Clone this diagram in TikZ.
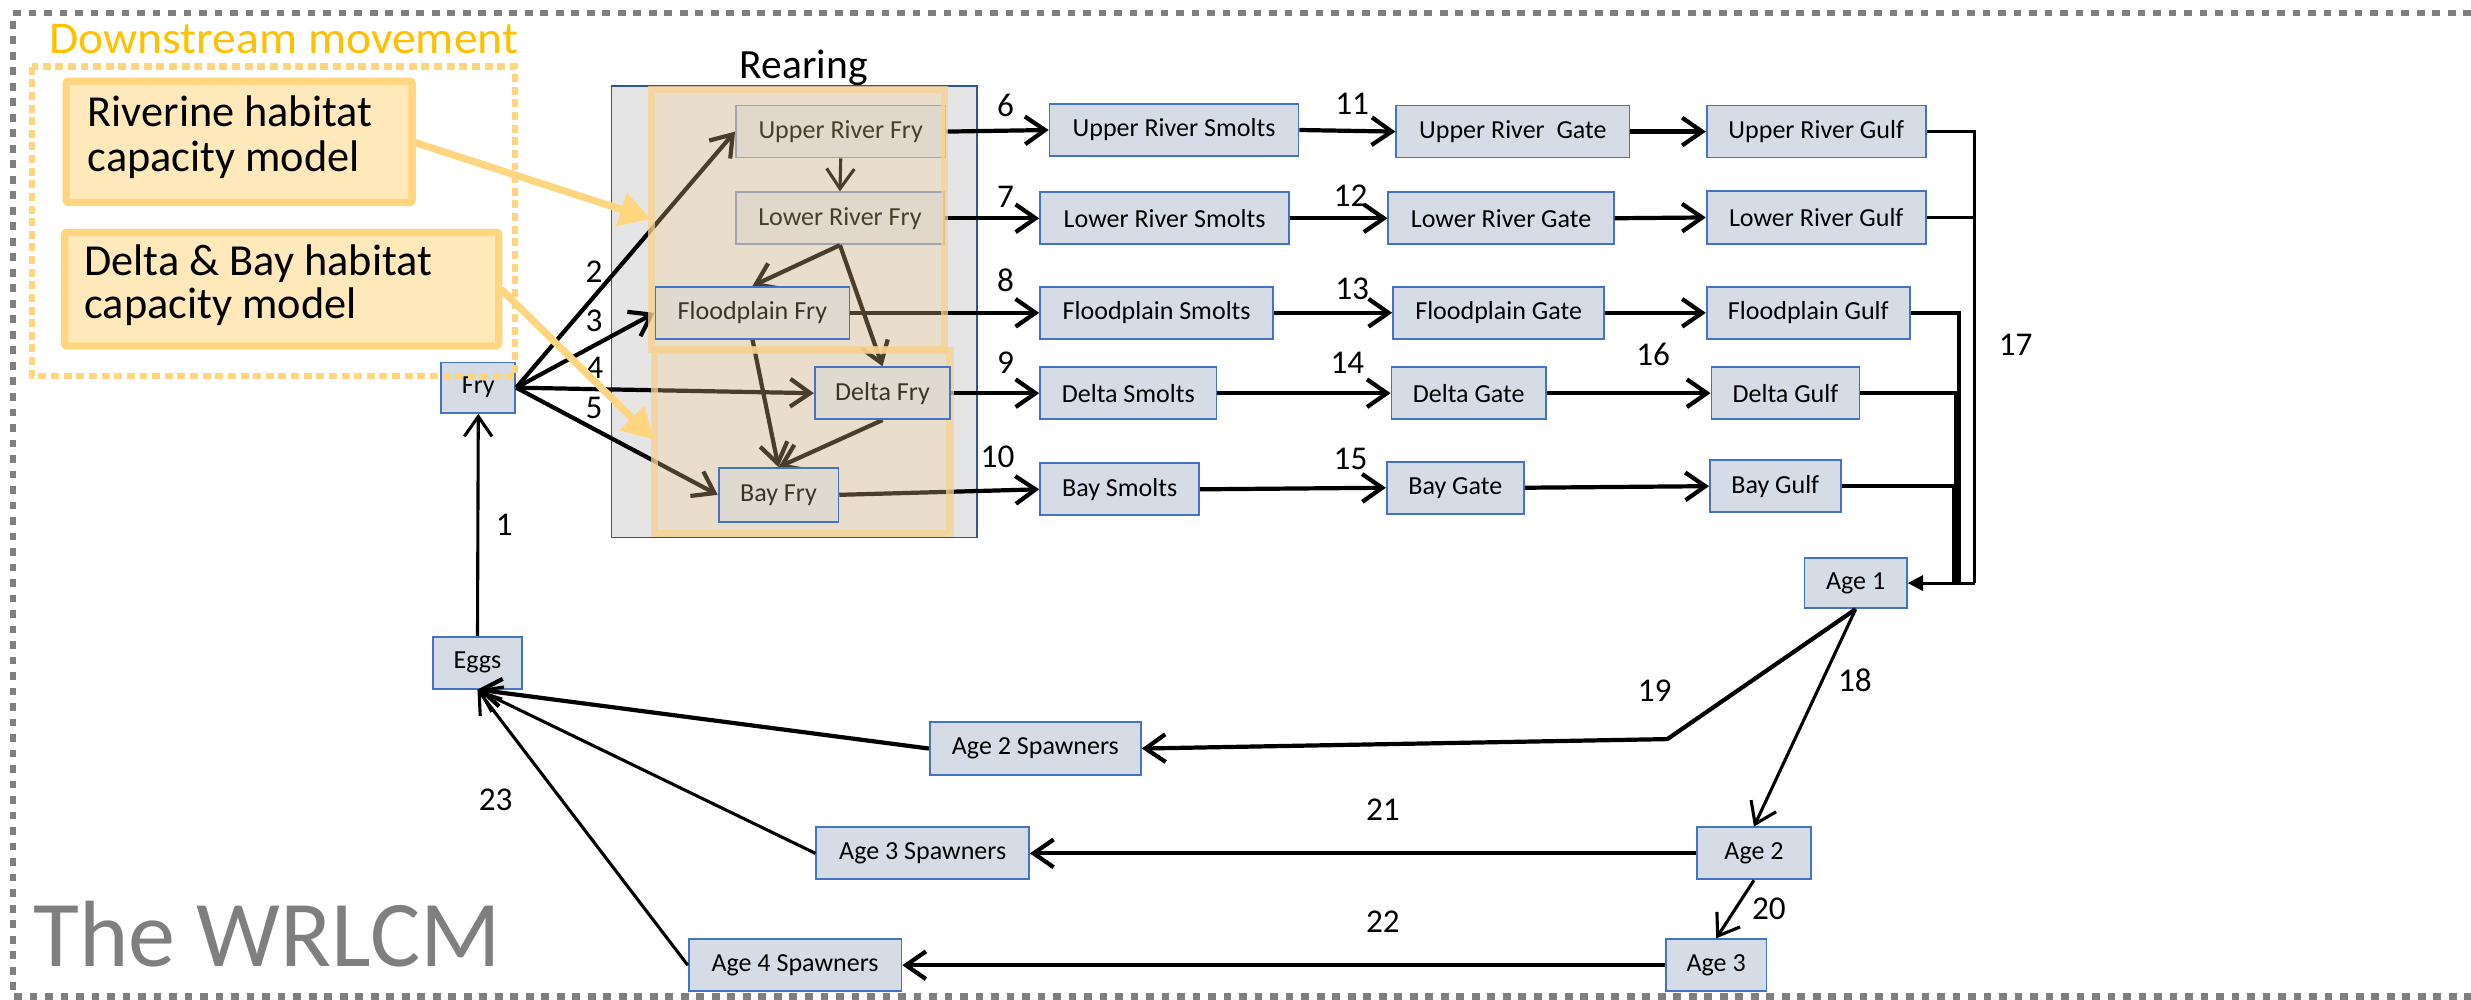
\documentclass[tikz,border=0pt]{standalone}
\usepackage{fontspec}
\setmainfont{Carlito}
\newfontfamily\widefont[FakeStretch=1.05]{Carlito}
\usetikzlibrary{arrows.meta}
\definecolor{boxfill}{HTML}{D6DCE5}
\definecolor{boxline}{HTML}{4472C4}
\definecolor{rearfill}{HTML}{E5E5E5}
\definecolor{rearline}{HTML}{2F5597}
\definecolor{tintfill}{HTML}{F5CF8F}
\definecolor{tintline}{HTML}{F7D28E}
\definecolor{gold}{HTML}{FFC000}
\definecolor{goldline}{HTML}{FFD580}
\definecolor{goldfill}{HTML}{FFE8BA}
\definecolor{framegray}{HTML}{7F7F7F}
\definecolor{fryfill}{HTML}{DFDAD0}
\definecolor{frytext}{HTML}{3A3428}
\definecolor{riverline}{HTML}{7A92BE}

\pgfdeclarelayer{tint}
\pgfdeclarelayer{front}
\pgfsetlayers{main,tint,front}

\tikzset{
  box/.style={draw=boxline, fill=boxfill, line width=1.6pt, inner sep=0pt,
    font=\fontsize{23.5pt}{28pt}\selectfont, text=black},
  riverbox/.style={box, draw=riverline},
  frybox/.style={box, fill=fryfill, text=frytext},
  num/.style={inner sep=0pt, font=\fontsize{30pt}{30pt}\selectfont},
  flow/.style={line width=3.8pt, -{Straight Barb[length=18pt,width=25pt]}},
  thinflow/.style={line width=2.8pt, -{Straight Barb[length=18pt,width=25pt]}},
  gulfline/.style={line width=3.2pt},
  outerline/.style={line width=2.6pt},
  goldbox/.style={draw=goldline, fill=goldfill, line width=6.6pt, rounded corners=2pt},
  goldarrow/.style={draw=goldline, line width=6.5pt, -{Triangle[length=28pt,width=30pt]}},
  tintbox/.style={fill=tintfill, fill opacity=0.3, draw=tintline, draw opacity=0.75, line width=6.4pt},
}

% box from corner (x1,y1) to corner (x2,y2)
\newcommand\bx[7][]{\node[box,#1,minimum width={(#5-#3)*0.05cm},minimum height={(#6-#4)*0.05cm}] (#2) at ({(#3+#5)/2},{(#4+#6)/2}) {#7};}

\begin{document}
\begin{tikzpicture}[x=0.05cm, y=-0.05cm]
\useasboundingbox (0,0) rectangle (1568,634);

% frame
\draw[framegray, line width=6pt, dash pattern=on 7pt off 7pt]
  (1568,8.3) -- (8.3,8.3) -- (8.3,632.5) -- (1568,632.5);
\node[anchor=base west, inner sep=0pt, text=framegray, font=\fontsize{85pt}{85pt}\selectfont] (title) at (21,613.5) {The WRLCM};

% rearing block
\draw[draw=rearline, fill=rearfill, line width=1.5pt] (388,54.5) rectangle (620,341);
\node[anchor=base, inner sep=0pt, font=\fontsize{37.5pt}{37.5pt}\selectfont] (rear) at (510,49.5) {Rearing};

% fry stages
\bx{fry}{280}{230}{327}{262}{Fry}
\bx{eggs}{275}{404}{331}{437}{Eggs}
\bx[riverbox]{urfry}{467}{67}{600}{100}{Upper River Fry}
\bx[riverbox]{lrfry}{467}{122}{599}{155}{Lower River Fry}
\begin{pgfonlayer}{front}
\bx[frybox]{fpfry}{416}{182}{539}{215}{Floodplain Fry}
\bx[frybox]{dfry}{517}{233}{603}{266}{Delta Fry}
\bx[frybox]{bfry}{456}{297}{532}{331}{Bay Fry}
\end{pgfonlayer}

% smolts, gates, gulf
\bx{urs}{666}{66}{824}{99}{Upper River Smolts}
\bx{urg}{886}{67}{1034}{100}{Upper River\ \ Gate}
\bx{urgulf}{1083}{67}{1222}{100}{Upper River Gulf}
\bx{lrs}{660}{122}{818}{155}{Lower River Smolts}
\bx{lrg}{881}{122}{1024}{155}{Lower River Gate}
\bx{lrgulf}{1083}{121}{1222}{155}{Lower River Gulf}
\bx{fps}{660}{182}{808}{215}{Floodplain Smolts}
\bx{fpg}{884}{182}{1018}{215}{Floodplain Gate}
\bx{fpgulf}{1083}{182}{1212}{215}{Floodplain Gulf}
\bx{ds}{660}{233}{772}{266}{Delta Smolts}
\bx{dg}{883}{233}{981}{266}{Delta Gate}
\bx{dgulf}{1086}{233}{1180}{266}{Delta Gulf}
\bx{bs}{660}{294}{761}{327}{Bay Smolts}
\bx{bg}{880}{293}{967}{326}{Bay Gate}
\bx{bgulf}{1085}{292}{1168}{325}{Bay Gulf}

% ocean ages and spawners
\bx{age1}{1145}{354}{1210}{386}{Age 1}
\bx{age2}{1077}{525}{1149}{558}{Age 2}
\bx{age3}{1057}{596}{1121}{629}{Age 3}
\bx{a2s}{590}{458}{724}{492}{Age 2 Spawners}
\bx{a3s}{518}{525}{653}{558}{Age 3 Spawners}
\bx{a4s}{437}{596}{572}{629}{Age 4 Spawners}

% transitions inside rearing
\draw[flow] (fry.east) -- (urfry.west);
\draw[flow] (fry.east) -- (fpfry.west);
\draw[flow] (fry.east) -- (dfry.west);
\draw[flow] (fry.east) -- (bfry.west);
\draw[thinflow] (urfry.south) -- (lrfry.north);
\draw[flow] (lrfry.south) -- (fpfry.north);
\draw[flow] (lrfry.south) -- (dfry.north);
\draw[flow] (fpfry.south) -- (bfry.north);
\draw[flow] (dfry.south) -- (bfry.north);

% outmigration
\draw[flow] (urfry.east) -- (urs.west);
\draw[flow] (lrfry.east) -- (lrs.west);
\draw[flow] (fpfry.east) -- (fps.west);
\draw[flow] (dfry.east) -- (ds.west);
\draw[flow] (bfry.east) -- (bs.west);
\draw[flow] (urs.east) -- (urg.west);
\draw[flow] (lrs.east) -- (lrg.west);
\draw[flow] (fps.east) -- (fpg.west);
\draw[flow] (ds.east) -- (dg.west);
\draw[flow] (bs.east) -- (bg.west);
\draw[flow] (urg.east) -- (urgulf.west);
\draw[flow] (lrg.east) -- (lrgulf.west);
\draw[flow] (fpg.east) -- (fpgulf.west);
\draw[flow] (dg.east) -- (dgulf.west);
\draw[flow] (bg.east) -- (bgulf.west);

% gulf to age 1
\coordinate (jout) at (1253,370);
\coordinate (jfp) at (1243,370);
\coordinate (jd) at (1241,370);
\coordinate (jb) at (1240,370);
\draw[outerline] (urgulf.east) -| (jout);
\draw[outerline] (lrgulf.east) -- (lrgulf.east -| jout);
\draw[gulfline] (fpgulf.east) -| (jfp);
\draw[gulfline] (dgulf.east) -| (jd);
\draw[gulfline] (bgulf.east) -| (jb);
\draw[outerline, -{Triangle[length=14pt,width=14pt]}] (jout) -- (age1.east);

% ocean and spawning
\coordinate (bend) at (1058,469);
\draw[thinflow] (age1.south) -- (age2.north);
\draw[flow] (age1.south) -- (bend) -- (a2s.east);
\draw[thinflow] (age2.south) -- (age3.north);
\draw[flow] (age2.west) -- (a3s.east);
\draw[flow] (age3.west) -- (a4s.east);
\draw[flow] (a2s.west) -- (eggs.south);
\draw[thinflow] (a3s.west) -- (eggs.south);
\draw[thinflow] (a4s.west) -- (eggs.south);
\draw[thinflow] (eggs.north) -- (fry.south);

% transition numbers
\node[num] (n1) at (320,333) {1};
\node[num] (n2) at (377,172.5) {2};
\node[num] (n3) at (377,203.5) {3};
\node[num] (n4) at (377.5,233.5) {4};
\node[num] (n5) at (377,259) {5};
\node[num] (n6) at (638,67) {6};
\node[num] (n7) at (638,125) {7};
\node[num] (n8) at (638,178) {8};
\node[num] (n9) at (638,230) {9};
\node[num] (n10) at (633,290) {10};
\node[num] (n11) at (858,66) {11};
\node[num] (n12) at (857,124) {12};
\node[num] (n13) at (858,183) {13};
\node[num] (n14) at (855,230) {14};
\node[num] (n15) at (857,291) {15};
\node[num] (n16) at (1049,225) {16};
\node[num] (n17) at (1279,218.5) {17};
\node[num] (n18) at (1177,431.5) {18};
\node[num] (n19) at (1050,438) {19};
\node[num] (n20) at (1122.5,577) {20};
\node[num] (n21) at (877.5,514) {21};
\node[num] (n22) at (877.5,585) {22};
\node[num] (n23) at (314.5,507.5) {23};

% habitat zones
\begin{pgfonlayer}{tint}
\draw[tintbox] (413.3,56.7) rectangle (599.3,221.7);
\draw[tintbox] (415.3,222.3) rectangle (602.8,338.7);
\end{pgfonlayer}

% habitat capacity models
\begin{pgfonlayer}{front}
\node[anchor=base west, inner sep=0pt, text=gold, font=\widefont\fontsize{41pt}{41pt}\selectfont] (down) at (31,33.8) {Downstream movement};
\draw[goldbox] (42,51.5) rectangle (261.5,128.5);
\node[anchor=base west, inner sep=0pt, align=left, font=\fontsize{40pt}{40.5pt}\selectfont] (riv) at (55.5,109) {Riverine habitat\\capacity model};
\draw[goldbox] (41,147.5) rectangle (316.5,219.5);
\node[anchor=base west, inner sep=0pt, align=left, font=\fontsize{40pt}{39pt}\selectfont] (dbay) at (53.5,202) {Delta \& Bay habitat\\capacity model};
\draw[goldline, line width=6pt, dash pattern=on 7.2pt off 4.2pt] (20.3,42.3) rectangle (326.8,238.5);
\coordinate (rivout) at (262,90);
\coordinate (dbout) at (318,183.5);
\coordinate (rivtip) at (413,139);
\coordinate (dbtip) at (415,279);
\draw[goldarrow] (rivout) -- (rivtip);
\draw[goldarrow] (dbout) -- (dbtip);
\end{pgfonlayer}
\end{tikzpicture}
\end{document}
